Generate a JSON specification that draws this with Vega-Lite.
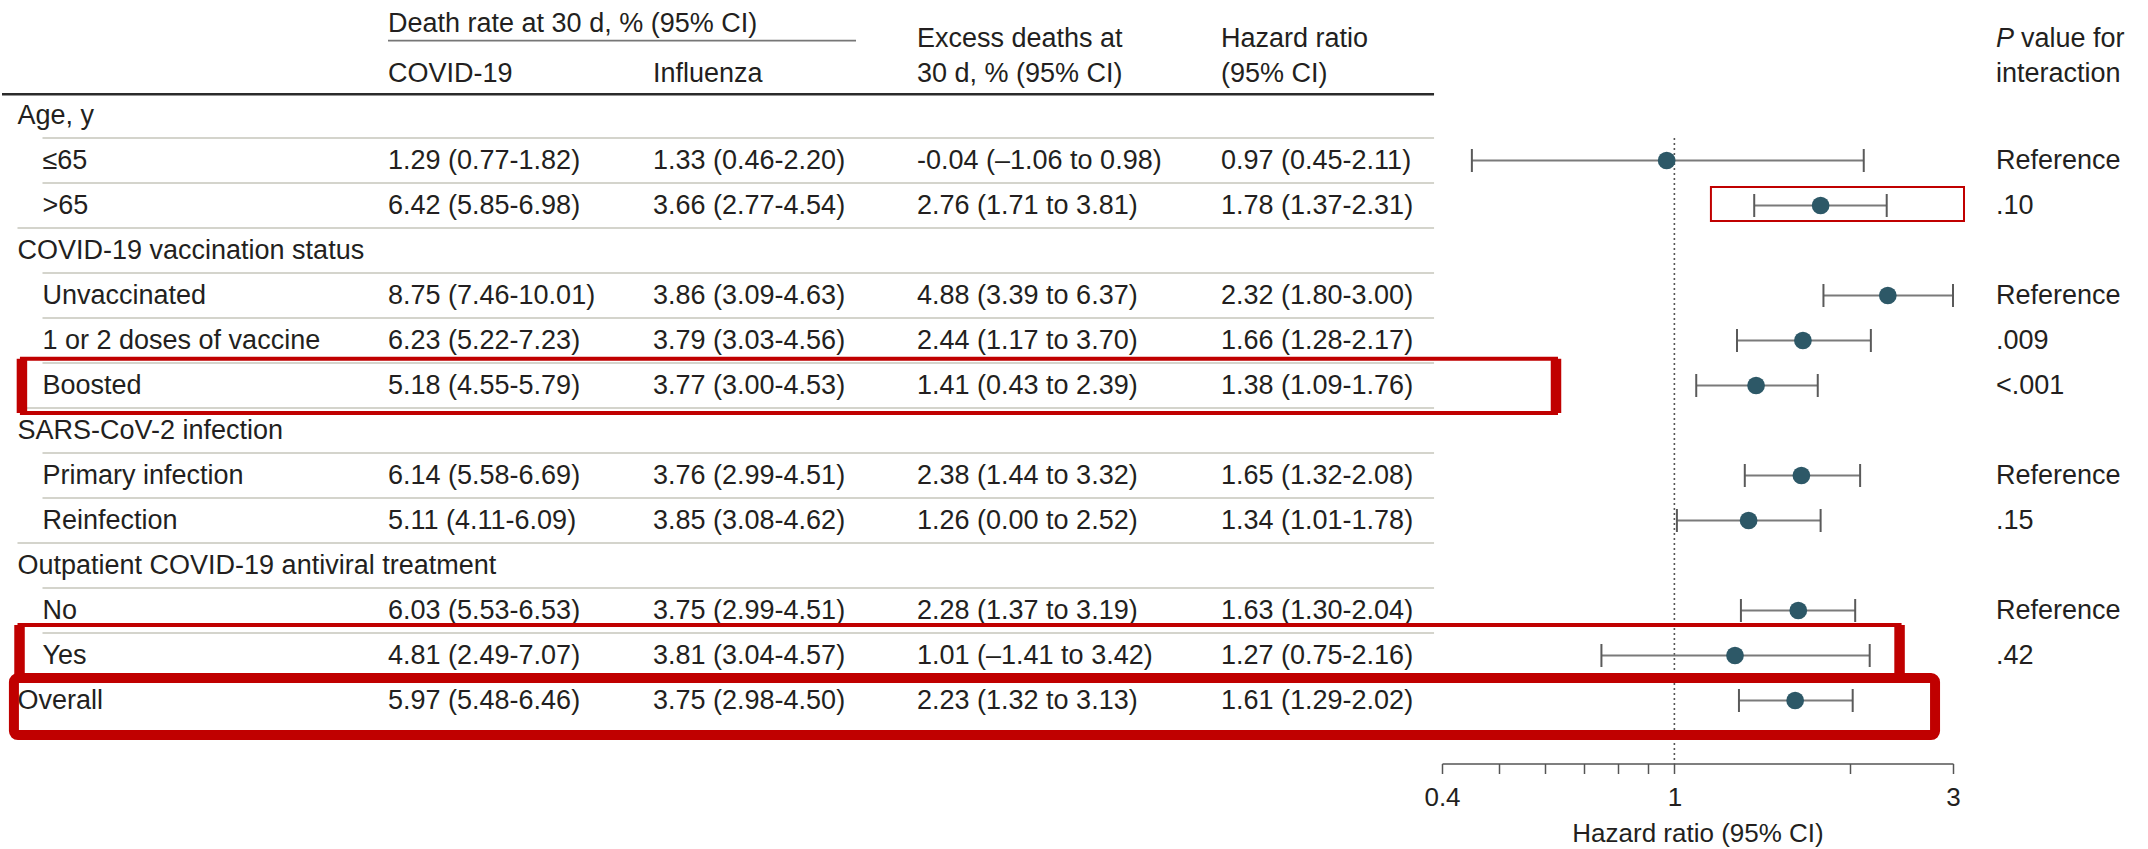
{
  "$schema": "https://vega.github.io/schema/vega-lite/v6.json",
  "background": "white",
  "padding": {"top": 3, "left": 0, "right": 0, "bottom": 0},
  "bounds": "flush",
  "spacing": 0,
  "config": {
    "view": {"stroke": null},
    "font": "Liberation Sans",
    "text": {"font": "Liberation Sans", "fontSize": 27, "color": "#231f20", "align": "left", "baseline": "middle"},
    "axis": {"labelFont": "Liberation Sans", "titleFont": "Liberation Sans"}
  },
  "datasets": {
    "rows": [
      {"row": 0, "label": "Age, y", "level": 0},
      {"row": 1, "label": "≤65", "level": 1, "covid": "1.29 (0.77-1.82)", "flu": "1.33 (0.46-2.20)", "excess": "-0.04 (–1.06 to 0.98)", "hr_ci": "0.97 (0.45-2.11)", "hr": 0.97, "lo": 0.45, "hi": 2.11, "p": "Reference"},
      {"row": 2, "label": ">65", "level": 1, "covid": "6.42 (5.85-6.98)", "flu": "3.66 (2.77-4.54)", "excess": "2.76 (1.71 to 3.81)", "hr_ci": "1.78 (1.37-2.31)", "hr": 1.78, "lo": 1.37, "hi": 2.31, "p": ".10"},
      {"row": 3, "label": "COVID-19 vaccination status", "level": 0},
      {"row": 4, "label": "Unvaccinated", "level": 1, "covid": "8.75 (7.46-10.01)", "flu": "3.86 (3.09-4.63)", "excess": "4.88 (3.39 to 6.37)", "hr_ci": "2.32 (1.80-3.00)", "hr": 2.32, "lo": 1.8, "hi": 3.0, "p": "Reference"},
      {"row": 5, "label": "1 or 2 doses of vaccine", "level": 1, "covid": "6.23 (5.22-7.23)", "flu": "3.79 (3.03-4.56)", "excess": "2.44 (1.17 to 3.70)", "hr_ci": "1.66 (1.28-2.17)", "hr": 1.66, "lo": 1.28, "hi": 2.17, "p": ".009"},
      {"row": 6, "label": "Boosted", "level": 1, "covid": "5.18 (4.55-5.79)", "flu": "3.77 (3.00-4.53)", "excess": "1.41 (0.43 to 2.39)", "hr_ci": "1.38 (1.09-1.76)", "hr": 1.38, "lo": 1.09, "hi": 1.76, "p": "<.001"},
      {"row": 7, "label": "SARS-CoV-2 infection", "level": 0},
      {"row": 8, "label": "Primary infection", "level": 1, "covid": "6.14 (5.58-6.69)", "flu": "3.76 (2.99-4.51)", "excess": "2.38 (1.44 to 3.32)", "hr_ci": "1.65 (1.32-2.08)", "hr": 1.65, "lo": 1.32, "hi": 2.08, "p": "Reference"},
      {"row": 9, "label": "Reinfection", "level": 1, "covid": "5.11 (4.11-6.09)", "flu": "3.85 (3.08-4.62)", "excess": "1.26 (0.00 to 2.52)", "hr_ci": "1.34 (1.01-1.78)", "hr": 1.34, "lo": 1.01, "hi": 1.78, "p": ".15"},
      {"row": 10, "label": "Outpatient COVID-19 antiviral treatment", "level": 0},
      {"row": 11, "label": "No", "level": 1, "covid": "6.03 (5.53-6.53)", "flu": "3.75 (2.99-4.51)", "excess": "2.28 (1.37 to 3.19)", "hr_ci": "1.63 (1.30-2.04)", "hr": 1.63, "lo": 1.3, "hi": 2.04, "p": "Reference"},
      {"row": 12, "label": "Yes", "level": 1, "covid": "4.81 (2.49-7.07)", "flu": "3.81 (3.04-4.57)", "excess": "1.01 (–1.41 to 3.42)", "hr_ci": "1.27 (0.75-2.16)", "hr": 1.27, "lo": 0.75, "hi": 2.16, "p": ".42"},
      {"row": 13, "label": "Overall", "level": 0, "covid": "5.97 (5.48-6.46)", "flu": "3.75 (2.98-4.50)", "excess": "2.23 (1.32 to 3.13)", "hr_ci": "1.61 (1.29-2.02)", "hr": 1.61, "lo": 1.29, "hi": 2.02}
    ],
    "boxes": [
      {"box": ">65", "top": 1.589, "bottom": 2.344, "left": 1.155, "right": 3.133},
      {"box": "Boosted", "top": 5.406, "bottom": 6.611, "left": 0.00148, "right": 0.627},
      {"box": "Yes", "top": 11.322, "bottom": 12.5, "left": 0.001466, "right": 2.43},
      {"box": "Overall", "top": 12.5, "bottom": 13.767, "left": 0.001434, "right": 2.795}
    ]
  },
  "hconcat": [
    {
      "width": 386, "height": 760.5, "data": {"name": "rows"},
      "layer": [
        {"transform": [{"filter": "datum.level == 1"}],
         "mark": {"type": "rule", "color": "#d4d4cc", "strokeWidth": 2, "yOffset": -22.5},
         "encoding": {
           "x": {"field": "level", "type": "quantitative", "scale": {"domain": [-0.62, 14.82], "nice": false, "zero": false}, "axis": null},
           "x2": {"datum": 14.82},
           "y": {"field": "row", "type": "quantitative", "scale": {"domain": [-2.5, 14.4], "reverse": true, "nice": false, "zero": false}, "axis": null}}},
        {"transform": [{"filter": {"field": "label", "oneOf": [">65", "Boosted", "Reinfection", "Yes"]}}],
         "mark": {"type": "rule", "color": "#d4d4cc", "strokeWidth": 2, "yOffset": 22.5},
         "encoding": {"x": {"datum": 0, "type": "quantitative"}, "x2": {"datum": 14.82}, "y": {"field": "row", "type": "quantitative"}}},
        {"data": {"values": [{}]}, "mark": {"type": "rule", "color": "#2b2b2b", "strokeWidth": 2.5},
         "encoding": {"x": {"datum": -0.62, "type": "quantitative"}, "x2": {"datum": 14.82}, "y": {"datum": -0.47, "type": "quantitative"}}},
        {"mark": {"type": "text"},
         "encoding": {"x": {"field": "level", "type": "quantitative"}, "y": {"field": "row", "type": "quantitative"}, "text": {"field": "label"}}}
      ]
    },
    {
      "width": 265, "height": 760.5, "data": {"name": "rows"},
      "layer": [
        {"transform": [{"filter": "datum.level == 1"}],
         "mark": {"type": "rule", "color": "#d4d4cc", "strokeWidth": 2, "yOffset": -22.5},
         "encoding": {
           "x": {"datum": 0, "type": "quantitative", "scale": {"domain": [0, 1], "nice": false, "zero": false}, "axis": null},
           "x2": {"datum": 1},
           "y": {"field": "row", "type": "quantitative", "scale": {"domain": [-2.5, 14.4], "reverse": true, "nice": false, "zero": false}, "axis": null}}},
        {"transform": [{"filter": {"field": "label", "oneOf": [">65", "Boosted", "Reinfection", "Yes"]}}],
         "mark": {"type": "rule", "color": "#d4d4cc", "strokeWidth": 2, "yOffset": 22.5},
         "encoding": {"x": {"datum": 0, "type": "quantitative"}, "x2": {"datum": 1}, "y": {"field": "row", "type": "quantitative"}}},
        {"data": {"values": [{}]}, "mark": {"type": "rule", "color": "#2b2b2b", "strokeWidth": 2.5},
         "encoding": {"x": {"datum": 0, "type": "quantitative"}, "x2": {"datum": 1}, "y": {"datum": -0.47, "type": "quantitative"}}},
        {"data": {"values": [{}]}, "mark": {"type": "rule", "color": "#777777", "strokeWidth": 1.8},
         "encoding": {"x": {"datum": 0, "type": "quantitative"}, "x2": {"datum": 1}, "y": {"datum": -1.662, "type": "quantitative"}}},
        {"data": {"values": [{}]}, "mark": {"type": "text", "text": "Death rate at 30 d, % (95% CI)"},
         "encoding": {"x": {"datum": 0, "type": "quantitative"}, "y": {"datum": -2.029, "type": "quantitative"}}},
        {"data": {"values": [{}]}, "mark": {"type": "text", "text": "COVID-19"},
         "encoding": {"x": {"datum": 0, "type": "quantitative"}, "y": {"datum": -0.922, "type": "quantitative"}}},
        {"transform": [{"filter": "isValid(datum.covid)"}], "mark": {"type": "text"},
         "encoding": {"x": {"datum": 0, "type": "quantitative"}, "y": {"field": "row", "type": "quantitative"}, "text": {"field": "covid"}}}
      ]
    },
    {
      "width": 264, "height": 760.5, "data": {"name": "rows"},
      "layer": [
        {"transform": [{"filter": "datum.level == 1"}],
         "mark": {"type": "rule", "color": "#d4d4cc", "strokeWidth": 2, "yOffset": -22.5},
         "encoding": {
           "x": {"datum": 0, "type": "quantitative", "scale": {"domain": [0, 1], "nice": false, "zero": false}, "axis": null},
           "x2": {"datum": 1},
           "y": {"field": "row", "type": "quantitative", "scale": {"domain": [-2.5, 14.4], "reverse": true, "nice": false, "zero": false}, "axis": null}}},
        {"transform": [{"filter": {"field": "label", "oneOf": [">65", "Boosted", "Reinfection", "Yes"]}}],
         "mark": {"type": "rule", "color": "#d4d4cc", "strokeWidth": 2, "yOffset": 22.5},
         "encoding": {"x": {"datum": 0, "type": "quantitative"}, "x2": {"datum": 1}, "y": {"field": "row", "type": "quantitative"}}},
        {"data": {"values": [{}]}, "mark": {"type": "rule", "color": "#2b2b2b", "strokeWidth": 2.5},
         "encoding": {"x": {"datum": 0, "type": "quantitative"}, "x2": {"datum": 1}, "y": {"datum": -0.47, "type": "quantitative"}}},
        {"data": {"values": [{}]}, "mark": {"type": "rule", "color": "#777777", "strokeWidth": 1.8},
         "encoding": {"x": {"datum": 0, "type": "quantitative"}, "x2": {"datum": 0.769}, "y": {"datum": -1.662, "type": "quantitative"}}},
        {"data": {"values": [{}]}, "mark": {"type": "text", "text": "Influenza"},
         "encoding": {"x": {"datum": 0, "type": "quantitative"}, "y": {"datum": -0.922, "type": "quantitative"}}},
        {"transform": [{"filter": "isValid(datum.flu)"}], "mark": {"type": "text"},
         "encoding": {"x": {"datum": 0, "type": "quantitative"}, "y": {"field": "row", "type": "quantitative"}, "text": {"field": "flu"}}}
      ]
    },
    {
      "width": 304, "height": 760.5, "data": {"name": "rows"},
      "layer": [
        {"transform": [{"filter": "datum.level == 1"}],
         "mark": {"type": "rule", "color": "#d4d4cc", "strokeWidth": 2, "yOffset": -22.5},
         "encoding": {
           "x": {"datum": 0, "type": "quantitative", "scale": {"domain": [0, 1], "nice": false, "zero": false}, "axis": null},
           "x2": {"datum": 1},
           "y": {"field": "row", "type": "quantitative", "scale": {"domain": [-2.5, 14.4], "reverse": true, "nice": false, "zero": false}, "axis": null}}},
        {"transform": [{"filter": {"field": "label", "oneOf": [">65", "Boosted", "Reinfection", "Yes"]}}],
         "mark": {"type": "rule", "color": "#d4d4cc", "strokeWidth": 2, "yOffset": 22.5},
         "encoding": {"x": {"datum": 0, "type": "quantitative"}, "x2": {"datum": 1}, "y": {"field": "row", "type": "quantitative"}}},
        {"data": {"values": [{}]}, "mark": {"type": "rule", "color": "#2b2b2b", "strokeWidth": 2.5},
         "encoding": {"x": {"datum": 0, "type": "quantitative"}, "x2": {"datum": 1}, "y": {"datum": -0.47, "type": "quantitative"}}},
        {"data": {"values": [{}]}, "mark": {"type": "text", "text": "Excess deaths at"},
         "encoding": {"x": {"datum": 0, "type": "quantitative"}, "y": {"datum": -1.7, "type": "quantitative"}}},
        {"data": {"values": [{}]}, "mark": {"type": "text", "text": "30 d, % (95% CI)"},
         "encoding": {"x": {"datum": 0, "type": "quantitative"}, "y": {"datum": -0.922, "type": "quantitative"}}},
        {"transform": [{"filter": "isValid(datum.excess)"}], "mark": {"type": "text"},
         "encoding": {"x": {"datum": 0, "type": "quantitative"}, "y": {"field": "row", "type": "quantitative"}, "text": {"field": "excess"}}}
      ]
    },
    {
      "width": 221, "height": 760.5, "data": {"name": "rows"},
      "layer": [
        {"transform": [{"filter": "datum.level == 1"}],
         "mark": {"type": "rule", "color": "#d4d4cc", "strokeWidth": 2, "yOffset": -22.5},
         "encoding": {
           "x": {"datum": 0, "type": "quantitative", "scale": {"domain": [0, 1], "nice": false, "zero": false}, "axis": null},
           "x2": {"datum": 0.964},
           "y": {"field": "row", "type": "quantitative", "scale": {"domain": [-2.5, 14.4], "reverse": true, "nice": false, "zero": false}, "axis": null}}},
        {"transform": [{"filter": {"field": "label", "oneOf": [">65", "Boosted", "Reinfection", "Yes"]}}],
         "mark": {"type": "rule", "color": "#d4d4cc", "strokeWidth": 2, "yOffset": 22.5},
         "encoding": {"x": {"datum": 0, "type": "quantitative"}, "x2": {"datum": 0.964}, "y": {"field": "row", "type": "quantitative"}}},
        {"data": {"values": [{}]}, "mark": {"type": "rule", "color": "#2b2b2b", "strokeWidth": 2.5},
         "encoding": {"x": {"datum": 0, "type": "quantitative"}, "x2": {"datum": 0.964}, "y": {"datum": -0.47, "type": "quantitative"}}},
        {"data": {"values": [{}]}, "mark": {"type": "text", "text": "Hazard ratio"},
         "encoding": {"x": {"datum": 0, "type": "quantitative"}, "y": {"datum": -1.7, "type": "quantitative"}}},
        {"data": {"values": [{}]}, "mark": {"type": "text", "text": "(95% CI)"},
         "encoding": {"x": {"datum": 0, "type": "quantitative"}, "y": {"datum": -0.922, "type": "quantitative"}}},
        {"transform": [{"filter": "isValid(datum.hr_ci)"}], "mark": {"type": "text"},
         "encoding": {"x": {"datum": 0, "type": "quantitative"}, "y": {"field": "row", "type": "quantitative"}, "text": {"field": "hr_ci"}}}
      ]
    },
    {
      "width": 511, "height": 760.5, "data": {"name": "rows"},
      "layer": [
        {"data": {"values": [{}]},
         "mark": {"type": "rule", "color": "#555555", "strokeWidth": 1.6, "strokeDash": [2, 3]},
         "encoding": {
           "x": {"datum": 1, "type": "quantitative", "scale": {"type": "log", "domain": [0.4, 3], "nice": false},
                 "axis": {"values": [0.4, 0.5, 0.6, 0.7, 0.8, 0.9, 1, 2, 3],
                          "labelExpr": "(datum.value == 0.4 || datum.value == 1 || datum.value == 3) ? '' + datum.value : ''",
                          "title": "Hazard ratio (95% CI)", "grid": false,
                          "domainColor": "#555555", "domainWidth": 1.5, "tickColor": "#555555", "tickWidth": 1.5, "tickSize": 10,
                          "labelFontSize": 26, "labelColor": "#231f20", "labelPadding": 11, "labelFlush": false, "labelOverlap": false,
                          "titleFontSize": 26, "titleFontWeight": "normal", "titleColor": "#231f20", "titlePadding": 10}},
           "y": {"datum": 0.5, "type": "quantitative", "scale": {"domain": [-2.5, 14.4], "reverse": true, "nice": false, "zero": false}, "axis": null},
           "y2": {"datum": 14.4}}},
        {"transform": [{"filter": "isValid(datum.hr)"}],
         "mark": {"type": "rule", "color": "#7a7a7a", "strokeWidth": 2},
         "encoding": {"x": {"field": "lo", "type": "quantitative"}, "x2": {"field": "hi"}, "y": {"field": "row", "type": "quantitative"}}},
        {"transform": [{"filter": "isValid(datum.hr)"}],
         "mark": {"type": "tick", "orient": "vertical", "size": 23, "thickness": 2, "color": "#5a5a5a", "opacity": 1},
         "encoding": {"x": {"field": "lo", "type": "quantitative"}, "y": {"field": "row", "type": "quantitative"}}},
        {"transform": [{"filter": "isValid(datum.hr)"}],
         "mark": {"type": "tick", "orient": "vertical", "size": 23, "thickness": 2, "color": "#5a5a5a", "opacity": 1},
         "encoding": {"x": {"field": "hi", "type": "quantitative"}, "y": {"field": "row", "type": "quantitative"}}},
        {"transform": [{"filter": "isValid(datum.hr)"}],
         "mark": {"type": "circle", "size": 314, "color": "#2d5867", "opacity": 1},
         "encoding": {"x": {"field": "hr", "type": "quantitative"}, "y": {"field": "row", "type": "quantitative"}}},
        {"data": {"name": "boxes"}, "transform": [{"filter": "datum.box == '>65'"}],
         "mark": {"type": "rect", "filled": false, "color": "#c00000", "strokeWidth": 2},
         "encoding": {"x": {"field": "left", "type": "quantitative"}, "x2": {"field": "right"}, "y": {"field": "top", "type": "quantitative"}, "y2": {"field": "bottom"}}},
        {"data": {"name": "boxes"}, "transform": [{"filter": "datum.box == 'Boosted' || datum.box == 'Yes'"}],
         "mark": {"type": "rect", "filled": false, "color": "#c00000", "strokeWidth": 4},
         "encoding": {"x": {"field": "left", "type": "quantitative"}, "x2": {"field": "right"}, "y": {"field": "top", "type": "quantitative"}, "y2": {"field": "bottom"}}},
        {"data": {"name": "boxes"}, "transform": [{"filter": "datum.box == 'Boosted' || datum.box == 'Yes'"}],
         "mark": {"type": "rule", "color": "#c00000", "strokeWidth": 10.5},
         "encoding": {"x": {"field": "left", "type": "quantitative"}, "y": {"field": "top", "type": "quantitative"}, "y2": {"field": "bottom"}}},
        {"data": {"name": "boxes"}, "transform": [{"filter": "datum.box == 'Boosted' || datum.box == 'Yes'"}],
         "mark": {"type": "rule", "color": "#c00000", "strokeWidth": 10.5},
         "encoding": {"x": {"field": "right", "type": "quantitative"}, "y": {"field": "top", "type": "quantitative"}, "y2": {"field": "bottom"}}},
        {"data": {"name": "boxes"}, "transform": [{"filter": "datum.box == 'Overall'"}],
         "mark": {"type": "rect", "filled": false, "color": "#c00000", "strokeWidth": 10, "cornerRadius": 4},
         "encoding": {"x": {"field": "left", "type": "quantitative"}, "x2": {"field": "right"}, "y": {"field": "top", "type": "quantitative"}, "y2": {"field": "bottom"}}}
      ]
    },
    {
      "width": 197, "height": 760.5, "data": {"name": "rows"},
      "layer": [
        {"transform": [{"filter": "isValid(datum.p)"}], "mark": {"type": "text"},
         "encoding": {
           "x": {"datum": 0.2183, "type": "quantitative", "scale": {"domain": [0, 1], "nice": false, "zero": false}, "axis": null},
           "y": {"field": "row", "type": "quantitative", "scale": {"domain": [-2.5, 14.4], "reverse": true, "nice": false, "zero": false}, "axis": null},
           "text": {"field": "p"}}},
        {"data": {"values": [{}]}, "mark": {"type": "text", "text": "P", "fontStyle": "italic"},
         "encoding": {"x": {"datum": 0.2183, "type": "quantitative"}, "y": {"datum": -1.7, "type": "quantitative"}}},
        {"data": {"values": [{}]}, "mark": {"type": "text", "text": "value for", "dx": 25},
         "encoding": {"x": {"datum": 0.2183, "type": "quantitative"}, "y": {"datum": -1.7, "type": "quantitative"}}},
        {"data": {"values": [{}]}, "mark": {"type": "text", "text": "interaction"},
         "encoding": {"x": {"datum": 0.2183, "type": "quantitative"}, "y": {"datum": -0.922, "type": "quantitative"}}}
      ]
    }
  ]
}
